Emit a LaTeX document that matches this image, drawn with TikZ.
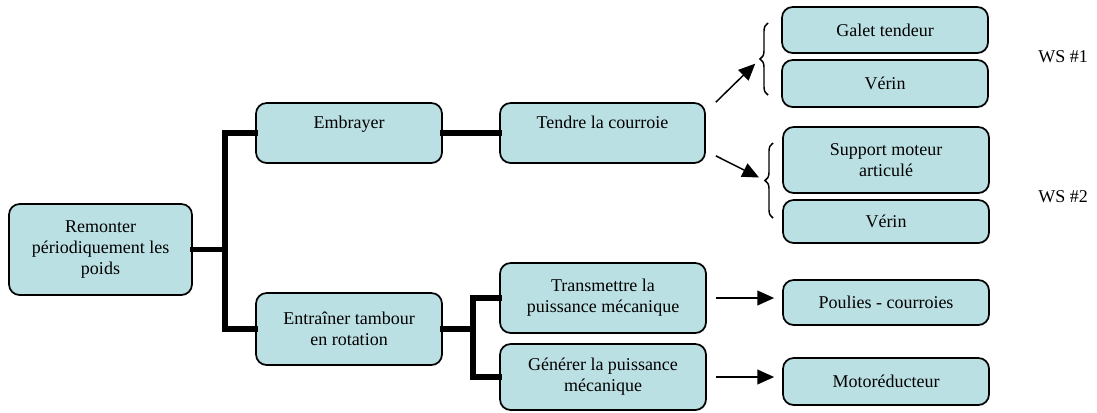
\documentclass[tikz,border=0pt]{standalone}
\usepackage{fontspec}
\setmainfont{Liberation Serif}
\usepackage{tikz}
\usetikzlibrary{arrows.meta,calc,positioning,decorations.pathreplacing}
\usepackage{xcolor}
\definecolor{boxcyan}{HTML}{BBE0E3}
\begin{document}
\begin{tikzpicture}[x=0.75pt, y=-0.75pt, >={Triangle[length=12.5pt,width=11pt]},
  func/.style={draw=black, fill=boxcyan, line width=1.3pt, rounded corners=8pt,
    align=center, inner sep=0pt, font=\fontsize{13.5}{15.75}\selectfont},
  bus/.style={line width=4pt, line cap=rect},
  link/.style={->, line width=1.1pt},
  bracket/.style={decorate, decoration={brace, amplitude=6pt}, line width=1.1pt}]
  \useasboundingbox (0,0) rectangle (1097,412);
  % fonctions
  \node[func, minimum width=137.25pt, minimum height=68.25pt] (remonter) at (100.5,249.5)
    {Remonter\\périodiquement les\\poids};
  \node[func, minimum width=139.5pt, minimum height=45pt] (embrayer) at (349,133)
    {Embrayer\\\mbox{}};
  \node[func, minimum width=139.5pt, minimum height=54pt] (entrainer) at (349,329)
    {Entraîner tambour\\en rotation};
  \node[func, minimum width=153.75pt, minimum height=45pt] (tendre) at (602.5,133)
    {Tendre la courroie\\\mbox{}};
  \node[func, minimum width=154.5pt, minimum height=52.5pt] (transmettre) at (603,298)
    {Transmettre la\\puissance mécanique};
  \node[func, minimum width=154.5pt, minimum height=49.5pt] (generer) at (603,377)
    {Générer la puissance\\mécanique};
  % solutions
  \node[func, minimum width=154.5pt, minimum height=34.5pt] (galet) at (885,30) {Galet tendeur};
  \node[func, minimum width=154.5pt, minimum height=35.25pt] (verinA) at (885,83.5) {Vérin};
  \node[func, minimum width=154.5pt, minimum height=49.5pt] (support) at (886,160)
    {Support moteur\\articulé};
  \node[func, minimum width=154.5pt, minimum height=32.25pt] (verinB) at (886,221.5) {Vérin};
  \node[func, minimum width=154.5pt, minimum height=33.75pt] (poulies) at (886,302.5) {Poulies - courroies};
  \node[func, minimum width=154.5pt, minimum height=35.25pt] (motored) at (886,381.5) {Motoréducteur};
  \node[font=\fontsize{13.5}{15.75}\selectfont] (wsA) at (1063,57) {WS \#1};
  \node[font=\fontsize{13.5}{15.75}\selectfont] (wsB) at (1063,197) {WS \#2};
  % arborescence
  \draw[bus] (remonter.east) -- ++(24pt,0) coordinate (forkA);
  \draw[bus] (embrayer.west) -| (forkA) |- (entrainer.west);
  \draw[bus] (embrayer.east) -- (tendre.west);
  \draw[bus] (entrainer.east) -- ++(22.5pt,0) coordinate (forkB);
  \draw[bus] (transmettre.west) -| (forkB) |- (generer.west);
  % accolades
  \draw[bracket] (768,95) -- (768,23) coordinate[pos=0.5, xshift=-6pt] (tipA);
  \draw[bracket] (773,218) -- (773,143) coordinate[pos=0.5, xshift=-6pt] (tipB);
  \draw[link, shorten >=5pt] ([xshift=7.5pt]tendre.north east) -- (tipA);
  \draw[link, shorten >=5pt] ([shift={(7.5pt,6pt)}]tendre.south east) -- (tipB);
  \draw[link, shorten <=7pt, shorten >=6pt] (transmettre.east) -- (transmettre.east -| poulies.west);
  \draw[link, shorten <=7pt, shorten >=6pt] (generer.east) -- (generer.east -| motored.west);
\end{tikzpicture}
\end{document}
